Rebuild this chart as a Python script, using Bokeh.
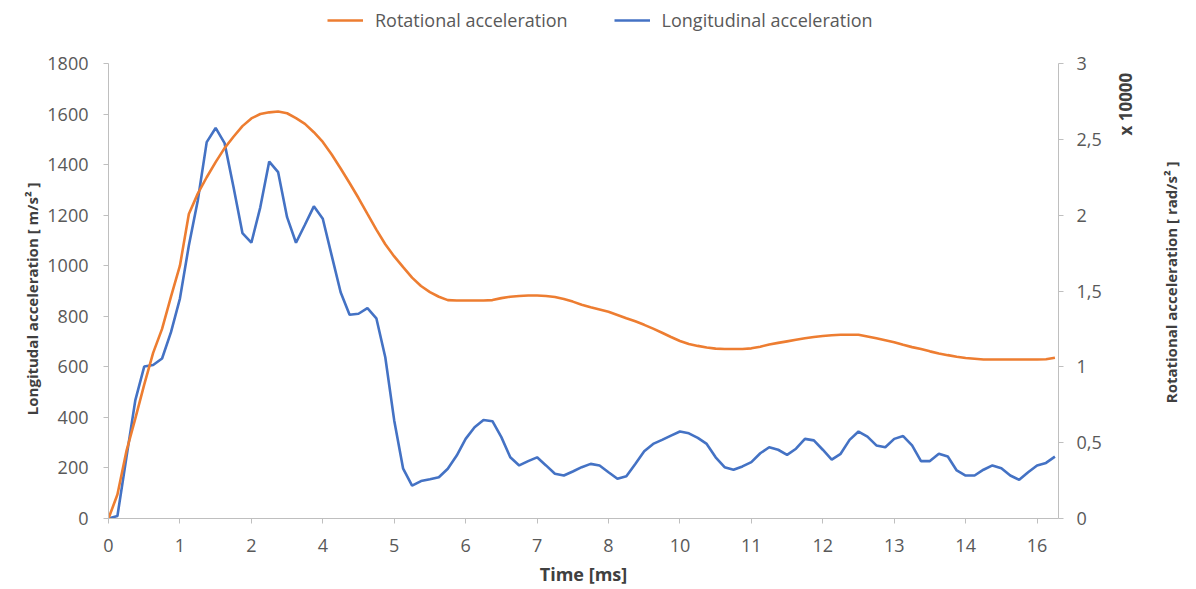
import math
from bokeh.plotting import figure
from bokeh.models import Range1d, LinearAxis, FixedTicker, Legend, LegendItem, ColumnDataSource
from bokeh.embed import file_html
from bokeh.resources import INLINE

# Longitudinal acceleration [m/s^2], one value per 0.15 ms sample
longitudinal = [0, 10, 240, 467, 601, 607, 633, 737, 870, 1080,
                1258, 1489, 1545, 1485, 1311, 1129, 1091, 1231, 1412, 1370,
                1192, 1091, 1162, 1235, 1186, 1040, 895, 806, 810, 832,
                792, 638, 388, 197, 130, 148, 155, 163, 197, 249,
                315, 361, 390, 385, 322, 242, 210, 227, 242, 210,
                177, 170, 186, 203, 216, 210, 183, 157, 167, 216,
                266, 295, 311, 328, 344, 337, 319, 295, 242, 203,
                193, 206, 223, 258, 282, 272, 252, 276, 315, 309,
                272, 233, 256, 311, 344, 324, 289, 282, 315, 326,
                289, 227, 227, 256, 245, 190, 170, 170, 193, 210,
                199, 170, 153, 183, 210, 220, 245]

# Rotational acceleration [x 10000 rad/s^2]
rotational = [0.0, 0.158, 0.442, 0.658, 0.883, 1.092, 1.25, 1.463, 1.667, 2.008,
              2.142, 2.25, 2.35, 2.442, 2.517, 2.587, 2.638, 2.667, 2.678, 2.683,
              2.672, 2.64, 2.602, 2.547, 2.483, 2.4, 2.308, 2.212, 2.113, 2.008,
              1.905, 1.808, 1.728, 1.657, 1.588, 1.533, 1.493, 1.462, 1.44, 1.437,
              1.437, 1.437, 1.437, 1.44, 1.453, 1.462, 1.467, 1.47, 1.47, 1.467,
              1.46, 1.447, 1.43, 1.41, 1.393, 1.378, 1.363, 1.342, 1.32, 1.3,
              1.277, 1.252, 1.225, 1.197, 1.17, 1.15, 1.138, 1.128, 1.12, 1.118,
              1.118, 1.118, 1.122, 1.133, 1.147, 1.158, 1.168, 1.178, 1.188, 1.197,
              1.203, 1.208, 1.212, 1.212, 1.212, 1.2, 1.188, 1.175, 1.162, 1.145,
              1.13, 1.117, 1.102, 1.088, 1.077, 1.067, 1.058, 1.053, 1.048, 1.048,
              1.048, 1.048, 1.048, 1.048, 1.048, 1.05, 1.06]

sample = list(range(len(longitudinal)))

x_tick_pos = [0, 8, 16, 24, 32, 40, 48, 56, 64, 72, 80, 88, 96, 104]
x_tick_labels = ["0", "1", "2", "4", "5", "6", "7", "8", "10", "11", "12", "13", "14", "16"]
left_ticks = [0, 200, 400, 600, 800, 1000, 1200, 1400, 1600, 1800]
right_ticks = [0, 0.5, 1, 1.5, 2, 2.5, 3]
right_tick_labels = ["0", "0,5", "1", "1,5", "2", "2,5", "3"]
scale_note = "x 10000"
right_title = "Rotational acceleration [ rad/s² ]"
left_title = "Longitudal acceleration [ m/s² ]"

FONT = "Open Sans"
TICK_COLOR = "#595959"
TITLE_COLOR = "#404040"
AXIS_COLOR = "#BFBFBF"

# frame runs from the top of the canvas (room for the legend) down to the x axis;
# the axes themselves stop at 1800 / 3 through their bounds
TOP_EXTRA = 58 / 455  # fraction of the axis height left above the last tick
src = ColumnDataSource(dict(x=sample, lon=longitudinal, rot=rotational))

p = figure(width=1196, height=589, output_backend="svg", toolbar_location=None,
           x_range=Range1d(0, 106.4), y_range=Range1d(0, 1800 * (1 + TOP_EXTRA)),
           min_border_left=108, min_border_right=138, min_border_top=5, min_border_bottom=71)
p.extra_y_ranges = {"rot": Range1d(0, 3 * (1 + TOP_EXTRA))}
p.xgrid.visible = False
p.ygrid.visible = False
p.outline_line_color = None

blue = p.line("x", "lon", source=src, line_color="#4472C4", line_width=2.6)
orange = p.line("x", "rot", source=src, y_range_name="rot", line_color="#ED7D31", line_width=2.6)

def style(ax):
    ax.axis_line_color = AXIS_COLOR
    ax.major_tick_line_color = AXIS_COLOR
    ax.minor_tick_line_color = None
    ax.major_tick_in = 0
    ax.major_tick_out = 5
    ax.major_label_text_font = FONT
    ax.major_label_text_font_size = "18px"
    ax.major_label_text_color = TICK_COLOR
    ax.axis_label_text_font = FONT
    ax.axis_label_text_font_size = "18px"
    ax.axis_label_text_font_style = "bold"
    ax.axis_label_text_color = TITLE_COLOR

xa = p.xaxis[0]
style(xa)
xa.ticker = FixedTicker(ticks=x_tick_pos)
xa.major_label_overrides = {k: v for k, v in zip(x_tick_pos, x_tick_labels)}
xa.major_label_standoff = 15
xa.axis_label = "Time [ms]"
xa.axis_label_standoff = 7

ya = p.yaxis[0]
style(ya)
ya.ticker = FixedTicker(ticks=left_ticks)
ya.bounds = (0, 1800)
ya.major_label_standoff = 15

# right axis with ticks
ra = LinearAxis(y_range_name="rot", ticker=FixedTicker(ticks=right_ticks), bounds=(0, 3))
style(ra)
ra.major_label_overrides = {k: v for k, v in zip(right_ticks, right_tick_labels)}
ra.major_label_standoff = 13
p.add_layout(ra, "right")

def text_axis(tick, label, standoff, size, range_name="default"):
    ax = LinearAxis(y_range_name=range_name, ticker=FixedTicker(ticks=[tick]))
    ax.axis_line_color = None
    ax.major_tick_line_color = None
    ax.minor_tick_line_color = None
    ax.major_tick_in = 0
    ax.major_tick_out = 0
    ax.major_label_overrides = {tick: label}
    ax.major_label_orientation = math.pi / 2
    ax.major_label_standoff = standoff
    ax.major_label_text_font = FONT
    ax.major_label_text_font_size = size
    ax.major_label_text_font_style = "bold"
    ax.major_label_text_color = TITLE_COLOR
    return ax

# left axis title (anchored at its upper end), "x 10000" note and right axis title
p.add_layout(text_axis(1329, left_title, 12, "15px"), "left")
p.add_layout(text_axis(2.525, scale_note, 21, "17px", "rot"), "right")
p.add_layout(text_axis(0.76, right_title, 20, "15px", "rot"), "right")

legend = Legend(items=[LegendItem(label="Rotational acceleration", renderers=[orange]),
                       LegendItem(label="Longitudinal acceleration", renderers=[blue])],
                orientation="horizontal", location=(219, 486), border_line_color=None,
                background_fill_alpha=0, label_text_font=FONT, label_text_font_size="18px",
                label_text_color=TICK_COLOR, glyph_width=36, label_standoff=12,
                spacing=46, padding=0, margin=0)
p.add_layout(legend, "center")

open("out.html", "w").write(file_html(p, INLINE))
